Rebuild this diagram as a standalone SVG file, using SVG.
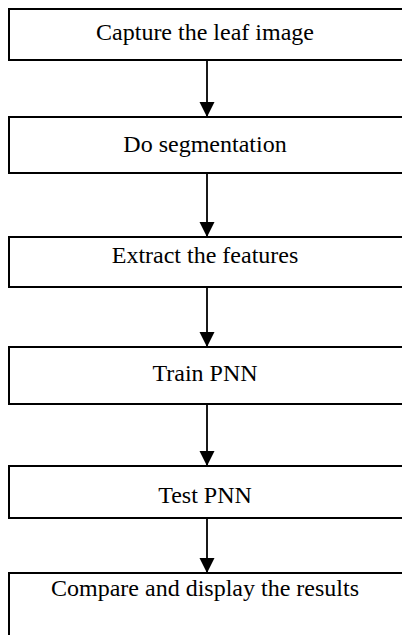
<svg xmlns="http://www.w3.org/2000/svg" width="402" height="635" viewBox="0 0 402 635">
<style>
.box{fill:#fff;stroke:#000;stroke-width:2}
.lbl{font-family:"Liberation Serif","Times New Roman",serif;font-size:24px;fill:#000;text-anchor:middle}
.con{stroke:#000;stroke-width:1.8;fill:none}
</style>
<defs>
<marker id="ah" markerUnits="userSpaceOnUse" markerWidth="16" markerHeight="16" refX="15" refY="7.5" orient="auto">
<path d="M0,0 L15,7.5 L0,15 Z" fill="#000"/>
</marker>
</defs>
<rect width="402" height="635" fill="#fff"/>
<g id="connectors">
<line class="con" x1="207" y1="60" x2="207" y2="117" marker-end="url(#ah)"/>
<line class="con" x1="207" y1="173" x2="207" y2="237" marker-end="url(#ah)"/>
<line class="con" x1="207" y1="287" x2="207" y2="347" marker-end="url(#ah)"/>
<line class="con" x1="207" y1="404" x2="207" y2="466" marker-end="url(#ah)"/>
<line class="con" x1="207" y1="518" x2="207" y2="573" marker-end="url(#ah)"/>
</g>
<g id="n1"><rect class="box" x="9" y="9" width="397" height="51"/><text class="lbl" x="205" y="40">Capture the leaf image</text></g>
<g id="n2"><rect class="box" x="9" y="117" width="397" height="56"/><text class="lbl" x="205" y="152">Do segmentation</text></g>
<g id="n3"><rect class="box" x="9" y="237" width="397" height="50"/><text class="lbl" x="205" y="263">Extract the features</text></g>
<g id="n4"><rect class="box" x="9" y="347" width="397" height="57"/><text class="lbl" x="205" y="381">Train PNN</text></g>
<g id="n5"><rect class="box" x="9" y="466" width="397" height="52"/><text class="lbl" x="205" y="503">Test PNN</text></g>
<g id="n6"><rect class="box" x="9" y="573" width="397" height="70"/><text class="lbl" x="205" y="596">Compare and display the results</text></g>
</svg>
